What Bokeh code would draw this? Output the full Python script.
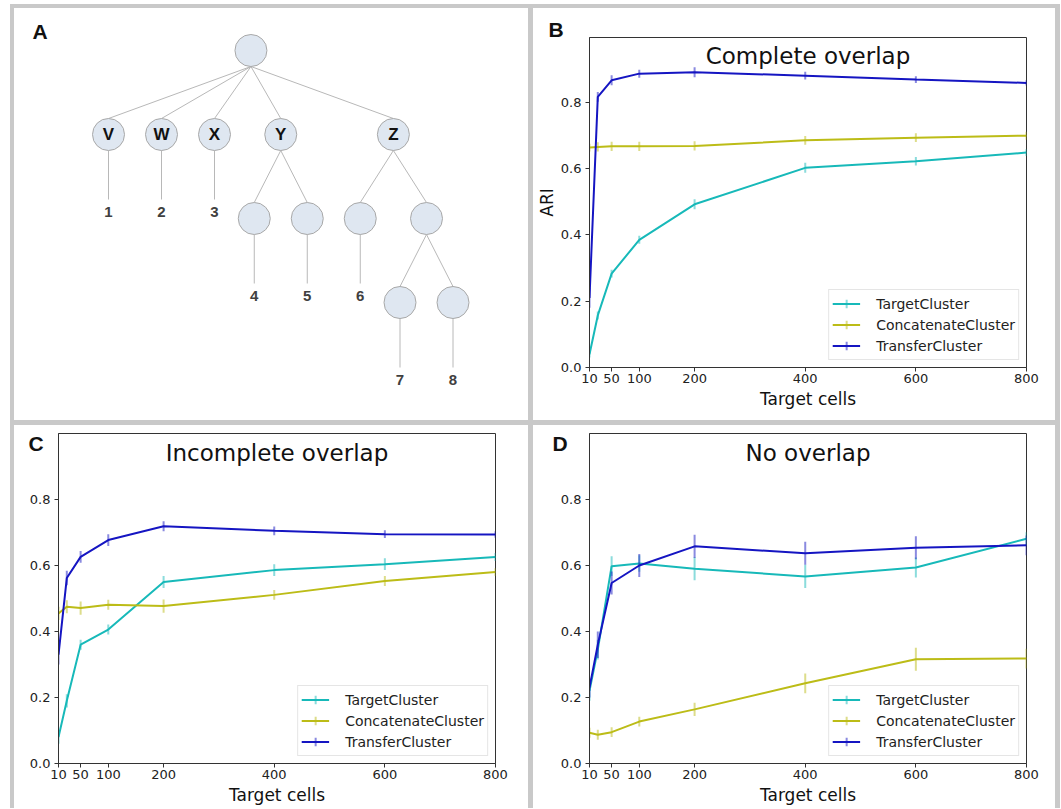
from bokeh.plotting import figure
from bokeh.models import (ColumnDataSource, Legend, LegendItem, FixedTicker,
                          PrintfTickFormatter, Range1d, Spacer)
from bokeh.layouts import row, column
from bokeh.embed import file_html
from bokeh.resources import INLINE

# ---------------- data ----------------
cells = [10, 25, 50, 100, 200, 400, 600, 800]
tick_cells = [10, 50, 100, 200, 400, 600, 800]
ari_ticks = [0.0, 0.2, 0.4, 0.6, 0.8]
series_names = ["TargetCluster", "ConcatenateCluster", "TransferCluster"]

# Complete overlap (B)
complete_target = [0.04, 0.157, 0.283, 0.385, 0.492, 0.602, 0.622, 0.648]
complete_target_err = [0.01, 0.012, 0.012, 0.012, 0.015, 0.015, 0.013, 0.01]
complete_concat = [0.663, 0.665, 0.667, 0.667, 0.668, 0.685, 0.693, 0.699]
complete_concat_err = [0.012, 0.014, 0.014, 0.014, 0.014, 0.013, 0.013, 0.012]
complete_transfer = [0.21, 0.816, 0.866, 0.886, 0.89, 0.88, 0.868, 0.858]
complete_transfer_err = [0.03, 0.015, 0.015, 0.012, 0.015, 0.012, 0.01, 0.008]

# Incomplete overlap (C)
incomplete_target = [0.08, 0.19, 0.36, 0.406, 0.55, 0.586, 0.604, 0.626]
incomplete_target_err = [0.02, 0.02, 0.015, 0.015, 0.018, 0.018, 0.018, 0.012]
incomplete_concat = [0.455, 0.475, 0.471, 0.481, 0.477, 0.511, 0.553, 0.58]
incomplete_concat_err = [0.02, 0.02, 0.02, 0.015, 0.02, 0.015, 0.015, 0.012]
incomplete_transfer = [0.33, 0.562, 0.626, 0.677, 0.719, 0.705, 0.695, 0.694]
incomplete_transfer_err = [0.03, 0.022, 0.018, 0.018, 0.015, 0.013, 0.012, 0.01]

# No overlap (D)
none_target = [0.22, 0.345, 0.598, 0.606, 0.59, 0.567, 0.594, 0.681]
none_target_err = [0.03, 0.03, 0.03, 0.025, 0.035, 0.035, 0.03, 0.02]
none_concat = [0.093, 0.087, 0.095, 0.127, 0.164, 0.243, 0.316, 0.318]
none_concat_err = [0.015, 0.015, 0.015, 0.015, 0.02, 0.03, 0.035, 0.03]
none_transfer = [0.23, 0.36, 0.547, 0.6, 0.658, 0.637, 0.654, 0.661]
none_transfer_err = [0.03, 0.04, 0.035, 0.035, 0.035, 0.035, 0.035, 0.03]

# Tree (A): parent index, depth, node label, terminal label, leaf slot
tree_parent = [-1, 0, 0, 0, 0, 0, 4, 4, 5, 5, 9, 9]
tree_depth = [0, 1, 1, 1, 1, 1, 2, 2, 2, 2, 3, 3]
tree_node_label = ["", "V", "W", "X", "Y", "Z", "", "", "", "", "", ""]
tree_leaf_label = ["", "1", "2", "3", "", "", "4", "5", "6", "", "7", "8"]
tree_leaf_slot = [None, 0, 1, 2, None, None, 2.75, 3.75, 4.75, None, 5.5, 6.5]

# ---------------- styles ----------------
COLORS = ["#17b9b9", "#bcbc17", "#1515c2"]
GRAY = "#c9c9c9"
FONT = "DejaVu Sans"
LETTER_FONT = "Liberation Sans"


def style_letter(p, letter, offset, standoff):
    p.title.text = letter
    p.title.align = "left"
    p.title.offset = offset
    p.title.standoff = standoff
    p.title.text_font = LETTER_FONT
    p.title.text_font_size = "21px"
    p.title.text_font_style = "bold"
    p.title.text_color = "#111111"


def make_panel(title, vals, errs, width, height, borders, ylabel, letter, letter_off,
               letter_standoff, ytop):
    left, right, top, bottom = borders
    p = figure(width=width, height=height, output_backend="svg", toolbar_location=None,
               x_range=Range1d(10, 800), y_range=Range1d(0, ytop),
               min_border_left=left, min_border_right=right,
               min_border_top=top, min_border_bottom=bottom)
    p.xgrid.visible = False
    p.ygrid.visible = False
    p.background_fill_color = "white"
    p.border_fill_color = "white"
    p.outline_line_color = "#333333"
    p.outline_line_width = 1

    p.xaxis.ticker = FixedTicker(ticks=tick_cells)
    p.yaxis.ticker = FixedTicker(ticks=ari_ticks)
    p.yaxis.formatter = PrintfTickFormatter(format="%.1f")
    for ax in (p.xaxis[0], p.yaxis[0]):
        ax.axis_line_color = "#333333"
        ax.major_tick_line_color = "#333333"
        ax.minor_tick_line_color = None
        ax.major_tick_in = 0
        ax.major_tick_out = 4
        ax.major_label_text_font = FONT
        ax.major_label_text_font_size = "13px"
        ax.major_label_text_color = "#222222"
        ax.axis_label_text_font = FONT
        ax.axis_label_text_font_size = "17px"
        ax.axis_label_text_font_style = "normal"
        ax.axis_label_text_color = "#111111"
    p.xaxis.major_label_standoff = 2
    p.yaxis.major_label_standoff = 4
    if ylabel:
        p.yaxis.axis_label = ylabel
        p.yaxis.axis_label_standoff = 1
    p.xaxis.axis_label = "Target cells"
    p.xaxis.axis_label_standoff = 3

    items = []
    for name, v, e, c in zip(series_names, vals, errs, COLORS):
        src = ColumnDataSource(dict(x=cells, y=v,
                                    lo=[a - b for a, b in zip(v, e)],
                                    hi=[a + b for a, b in zip(v, e)]))
        lr = p.line("x", "y", source=src, line_color=c, line_width=2)
        p.segment(x0="x", y0="lo", x1="x", y1="hi", source=src, line_color=c,
                  line_alpha=0.5, line_width=2)
        mk = p.scatter("x", "y", source=src, marker="cross", size=0, line_color=c,
                       line_alpha=0.5, line_width=2)
        items.append(LegendItem(label=name, renderers=[lr, mk]))

    legend = Legend(items=items, location="bottom_right", margin=7, padding=3,
                    spacing=0, glyph_width=28, glyph_height=21, label_height=21,
                    label_standoff=16, label_text_font=FONT, label_text_font_size="14px",
                    label_text_color="#222222", border_line_color="#cccccc",
                    border_line_width=1, background_fill_color="white",
                    background_fill_alpha=0.85)
    p.add_layout(legend)

    p.text(x=[405], y=[0.94], text=[title], text_align="center",
           text_baseline="middle", text_font={"value": FONT},
           text_font_size={"value": "23px"}, text_color="#111111")
    style_letter(p, letter, letter_off, letter_standoff)
    return p


# ---------------- panel A: tree ----------------
SLOT_PX = 53.0
LEVEL_PX = 84.0
R = 16.0 / LEVEL_PX
A_W, A_H = 514, 412
A_LEFT, A_RIGHT, A_TOP = 44, 33, 12
FRAME_W = A_W - A_LEFT - A_RIGHT
FRAME_H = A_H - A_TOP
ROOT_PX = (108 - 14 - A_LEFT, 50 - 8 - A_TOP)   # root centre inside the frame

n = len(tree_parent)
tx = list(tree_leaf_slot)


def node_x(i):
    if tx[i] is not None:
        return tx[i]
    kids = [k for k in range(n) if tree_parent[k] == i]
    xs = [node_x(k) for k in kids]
    tx[i] = (min(xs) + max(xs)) / 2.0
    return tx[i]


for i in range(n):
    node_x(i)
ty = [-d for d in tree_depth]

x0a = -ROOT_PX[0] / SLOT_PX
y1a = ROOT_PX[1] / LEVEL_PX
pa = figure(width=A_W, height=A_H, output_backend="svg", toolbar_location=None,
            x_range=Range1d(x0a, x0a + FRAME_W / SLOT_PX),
            y_range=Range1d(y1a - FRAME_H / LEVEL_PX, y1a),
            min_border_left=A_LEFT, min_border_right=A_RIGHT,
            min_border_top=A_TOP, min_border_bottom=0)
pa.axis.visible = False
pa.grid.visible = False
pa.outline_line_color = None
pa.border_fill_color = "white"

ex0, ey0, ex1, ey1 = [], [], [], []
for i in range(n):
    par = tree_parent[i]
    if par >= 0:
        ex0.append(tx[par]); ey0.append(ty[par] - R)
        ex1.append(tx[i]); ey1.append(ty[i] + R)
lx, ly, ltext = [], [], []
for i in range(n):
    if tree_leaf_label[i]:
        ex0.append(tx[i]); ey0.append(ty[i] - R)
        ex1.append(tx[i]); ey1.append(ty[i] - 1 + 19 / LEVEL_PX)
        lx.append(tx[i]); ly.append(ty[i] - 1 + 7 / LEVEL_PX); ltext.append(tree_leaf_label[i])

pa.segment(x0=ex0, y0=ey0, x1=ex1, y1=ey1, line_color="#b8b8b8", line_width=1)
pa.scatter(tx, ty, marker="circle", size=32, fill_color="#dfe7f1",
           line_color="#a8a8a8", line_width=1)
pa.text(x=tx, y=ty, text=tree_node_label, text_align="center", text_baseline="middle",
        text_font={"value": LETTER_FONT}, text_font_size={"value": "17px"},
        text_font_style={"value": "bold"}, text_color="#111111")
pa.text(x=lx, y=ly, text=ltext, text_align="center", text_baseline="middle",
        text_font={"value": LETTER_FONT}, text_font_size={"value": "15px"},
        text_font_style={"value": "bold"}, text_color="#404040")
style_letter(pa, "A", -26, -44)

# ---------------- panels B, C, D ----------------
pb = make_panel("Complete overlap",
                [complete_target, complete_concat, complete_transfer],
                [complete_target_err, complete_concat_err, complete_transfer_err],
                522, 412, (56, 29, 29, 53), "ARI", "B", -41, -7, 0.995)
pc = make_panel("Incomplete overlap",
                [incomplete_target, incomplete_concat, incomplete_transfer],
                [incomplete_target_err, incomplete_concat_err, incomplete_transfer_err],
                514, 383, (44, 33, 8, 45), None, "C", -30, -42, 1.0)
pd_ = make_panel("No overlap",
                 [none_target, none_concat, none_transfer],
                 [none_target_err, none_concat_err, none_transfer_err],
                 522, 383, (56, 29, 8, 45), None, "D", -37, -42, 1.0)


def gray(w, h):
    return Spacer(width=w, height=h, styles={"background-color": GRAY})


H = 4 + 412 + 5 + 383
col1 = column(gray(514, 4), pa, gray(514, 5), pc, spacing=0)
col2 = column(gray(522, 4), pb, gray(522, 5), pd_, spacing=0)
body = row(Spacer(width=10, height=H), gray(4, H), col1, gray(5, H), col2,
           gray(5, H), spacing=0)
layout = column(Spacer(width=1055, height=4), body, spacing=0)

open("out.html", "w").write(file_html(layout, INLINE))
